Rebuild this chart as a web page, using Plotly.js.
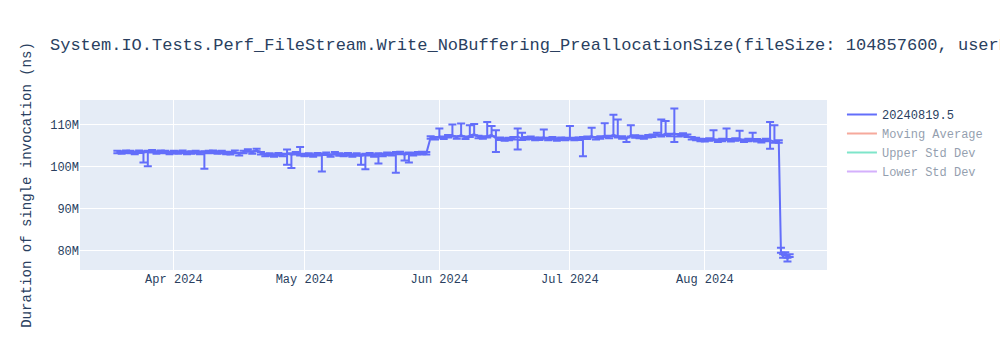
<!DOCTYPE html>
<html>
<head>
<meta charset="utf-8">
<script src="https://cdn.plot.ly/plotly-3.0.1.min.js"></script>
<style>html,body{margin:0;padding:0;background:#fff;}#chart{width:1000px;height:350px;}</style>
</head>
<body>
<div id="chart"></div>
<script>
// Dates of each run
const dates = [
  '2024-03-19','2024-03-20','2024-03-21','2024-03-22','2024-03-23','2024-03-24','2024-03-25','2024-03-26','2024-03-27','2024-03-28','2024-03-29','2024-03-30','2024-03-31',
  '2024-04-01','2024-04-02','2024-04-03','2024-04-04','2024-04-05','2024-04-06','2024-04-07','2024-04-08','2024-04-09','2024-04-10','2024-04-11','2024-04-12','2024-04-13','2024-04-14','2024-04-15',
  '2024-04-16','2024-04-17','2024-04-18','2024-04-19','2024-04-20','2024-04-21','2024-04-22','2024-04-23','2024-04-24','2024-04-25','2024-04-26','2024-04-27','2024-04-28','2024-04-29','2024-04-30',
  '2024-05-01','2024-05-02','2024-05-03','2024-05-04','2024-05-05','2024-05-06','2024-05-07','2024-05-08','2024-05-09','2024-05-10','2024-05-11','2024-05-12','2024-05-13','2024-05-14','2024-05-15',
  '2024-05-16','2024-05-17','2024-05-18','2024-05-19','2024-05-20','2024-05-21','2024-05-22','2024-05-23','2024-05-24','2024-05-25','2024-05-26','2024-05-27','2024-05-28','2024-05-29',
  '2024-05-30','2024-05-31',
  '2024-06-01','2024-06-02','2024-06-03','2024-06-04','2024-06-05','2024-06-06','2024-06-07','2024-06-08','2024-06-09','2024-06-10','2024-06-11','2024-06-12','2024-06-13','2024-06-14','2024-06-15',
  '2024-06-16','2024-06-17','2024-06-18','2024-06-19','2024-06-20','2024-06-21','2024-06-22','2024-06-23','2024-06-24','2024-06-25','2024-06-26','2024-06-27','2024-06-28','2024-06-29','2024-06-30',
  '2024-07-01','2024-07-02','2024-07-03','2024-07-04','2024-07-05','2024-07-06','2024-07-07','2024-07-08','2024-07-09','2024-07-10','2024-07-11','2024-07-12','2024-07-13','2024-07-14','2024-07-15',
  '2024-07-16','2024-07-17','2024-07-18','2024-07-19','2024-07-20','2024-07-21','2024-07-22','2024-07-23','2024-07-24','2024-07-25','2024-07-26','2024-07-27','2024-07-28','2024-07-29','2024-07-30','2024-07-31',
  '2024-08-01','2024-08-02','2024-08-03','2024-08-04','2024-08-05','2024-08-06','2024-08-07','2024-08-08','2024-08-09','2024-08-10','2024-08-11','2024-08-12','2024-08-13','2024-08-14','2024-08-15',
  '2024-08-16','2024-08-17','2024-08-18',
  '2024-08-18 12:00','2024-08-19 00:00','2024-08-19 12:00','2024-08-20 00:00','2024-08-20 12:00'
];

// Duration (millions of ns)
const durationM = [
  103.5,103.4,103.6,103.5,103.3,103.6,103.4,103.5,103.7,103.4,103.6,103.5,103.3,
  103.5,103.4,103.6,103.3,103.4,103.5,103.3,103.4,103.5,103.6,103.4,103.5,103.3,103.2,103.6,
  103.0,103.5,103.9,103.4,104.0,103.2,102.8,102.9,102.7,103.0,102.8,103.1,102.9,103.2,103.0,
  102.8,102.9,102.7,103.0,102.8,103.1,102.7,103.2,102.9,102.8,103.0,102.7,102.9,102.6,102.8,
  103.0,102.7,102.9,102.8,103.1,103.0,103.2,103.3,102.9,103.1,103.0,103.2,103.3,103.2,
  107.0,106.8,
  107.2,106.9,107.3,107.5,107.0,107.6,106.9,107.4,107.8,107.1,107.0,107.3,107.6,106.8,106.7,
  106.5,106.6,106.8,107.2,106.7,106.8,106.9,106.6,106.7,107.0,106.6,106.8,106.5,106.7,106.6,
  106.9,106.6,106.7,106.8,106.9,107.3,106.8,107.0,107.4,107.1,107.6,107.3,107.0,106.7,107.5,
  107.2,107.1,107.0,107.3,107.4,107.8,107.5,107.9,107.6,108.0,107.5,107.7,107.4,106.8,106.6,106.4,
  106.3,106.5,106.6,106.2,106.4,106.7,106.3,106.5,106.6,106.2,106.4,106.5,106.3,106.1,106.4,
  106.3,106.0,106.0,
  79.8,78.6,79.2,78.0,78.8
];

// Error above each point (millions of ns)
const errUpM = [
  0.3,0.3,0.3,0.3,0.3,0.3,0.3,0.3,0.3,0.3,0.3,0.3,0.3,
  0.3,0.3,0.3,0.3,0.3,0.3,0.3,0.3,0.3,0.3,0.3,0.3,0.3,0.3,0.3,
  0.3,0.3,0.3,0.3,0.3,0.3,0.3,0.3,0.3,0.3,0.3,1.0,0.3,0.3,1.7,
  0.3,0.3,0.3,0.3,0.3,0.3,0.3,0.3,0.3,0.3,0.3,0.3,0.3,0.3,0.3,
  0.3,0.3,0.3,0.3,0.3,0.3,0.3,0.3,0.3,0.3,0.3,0.3,0.3,0.3,
  0.3,0.3,
  1.9,0.3,0.3,2.6,0.3,2.7,0.3,2.5,2.4,0.3,0.3,3.4,2.1,1.9,0.3,
  0.3,0.3,0.3,1.9,1.4,0.3,0.3,0.3,0.3,1.9,0.3,0.3,0.3,0.3,0.3,
  2.8,0.3,0.3,0.3,0.3,2.0,0.3,0.3,3.0,0.3,4.8,4.0,0.3,0.3,2.4,
  0.3,0.3,0.3,0.3,0.3,0.3,3.8,3.0,0.3,5.9,0.3,0.3,0.3,0.3,0.3,0.3,
  0.3,0.3,2.1,0.3,0.3,2.4,0.3,0.3,2.0,0.3,0.3,1.6,0.3,0.3,0.3,
  4.4,3.9,0.3,
  0.9,0.5,0.4,0.3,0.3
];

// Error below each point (millions of ns)
const errDownM = [
  0.3,0.3,0.3,0.3,0.3,0.3,2.4,3.4,0.3,0.3,0.3,0.3,0.3,
  0.3,0.3,0.3,0.3,0.3,0.3,0.3,3.9,0.3,0.3,0.3,0.3,0.3,0.3,0.3,
  0.3,0.3,0.3,0.3,0.3,0.3,0.3,0.3,0.3,0.3,0.3,2.6,3.2,0.3,0.3,
  0.3,0.3,0.3,0.3,3.9,0.3,0.3,0.3,0.3,0.3,0.3,0.3,0.3,2.1,3.4,
  0.3,0.3,2.1,0.3,0.3,0.3,4.6,0.3,1.4,2.1,0.3,0.3,0.3,0.3,
  0.3,0.3,
  0.3,0.3,0.3,0.3,0.3,0.3,0.3,0.3,0.3,0.3,0.3,0.3,0.3,3.3,0.3,
  0.3,0.3,0.3,3.1,0.3,0.3,0.3,0.3,0.3,0.3,0.3,0.3,0.3,0.3,0.3,
  0.3,0.3,0.3,4.3,0.3,0.3,0.3,0.3,0.3,0.3,0.3,0.3,0.3,0.8,0.3,
  0.3,0.3,0.3,0.3,0.3,0.3,0.3,0.3,0.3,2.1,0.3,0.3,0.3,0.3,0.3,0.3,
  0.3,0.3,0.3,0.3,0.3,0.3,0.3,0.3,0.3,0.3,0.3,0.3,0.3,0.3,0.3,
  2.0,0.3,0.3,
  0.3,0.3,0.3,0.6,0.3
];

const seriesName = '20240819.5';
const legendOnlyNames = ['Moving Average', 'Upper Std Dev', 'Lower Std Dev'];
const legendOnlyColors = ['#EF553B', '#00cc96', '#ab63fa'];

const M = 1e6;
const traces = [{
  type: 'scatter',
  mode: 'lines',
  name: seriesName,
  x: dates,
  y: durationM.map(v => v * M),
  line: {color: '#636efa', width: 2},
  error_y: {
    type: 'data',
    symmetric: false,
    array: errUpM.map(v => v * M),
    arrayminus: errDownM.map(v => v * M),
    visible: true,
    color: '#636efa',
    thickness: 2,
    width: 4
  }
}];
// Hidden (legend-only) overlays: no values shown in the reference
legendOnlyNames.forEach((n, i) => {
  traces.push({
    type: 'scatter', mode: 'lines', name: n,
    x: dates, y: dates.map(() => null),
    line: {color: legendOnlyColors[i], width: 2},
    visible: 'legendonly'
  });
});

const axisStyle = {
  gridcolor: 'white', linecolor: 'white', zerolinecolor: 'white',
  zerolinewidth: 2, ticks: '', automargin: false, showline: false
};

const layout = {
  width: 1000,
  height: 350,
  font: {family: '"Courier New", "Liberation Mono", monospace', size: 12, color: '#2a3f5f'},
  paper_bgcolor: 'white',
  plot_bgcolor: '#E5ECF6',
  title: {
    text: 'System.IO.Tests.Perf_FileStream.Write_NoBuffering_PreallocationSize(fileSize: 104857600, userBufferSize: 4096, preallocationSize: 104857600)',
    x: 0.05
  },
  xaxis: Object.assign({type: 'date'}, axisStyle),
  yaxis: Object.assign({title: {text: 'Duration of single invocation (ns)', standoff: 15}}, axisStyle),
  showlegend: true,
  margin: {l: 80, r: 80, t: 100, b: 80}
};

Plotly.newPlot('chart', traces, layout, {displayModeBar: false});
</script>
</body>
</html>
